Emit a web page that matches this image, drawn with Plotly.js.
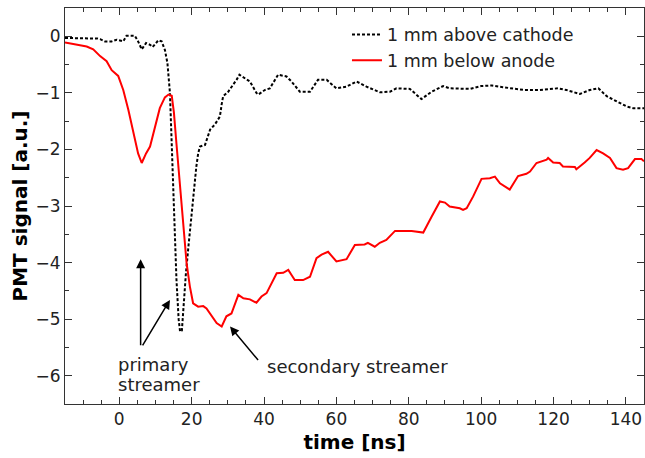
<!DOCTYPE html>
<html>
<head>
<meta charset="utf-8">
<script src="https://cdn.plot.ly/plotly-3.0.1.min.js"></script>
<style>
  html, body { margin: 0; padding: 0; background: #fff; }
  #chart { width: 645px; height: 458px; }
</style>
</head>
<body>
<div id="chart"></div>
<script>
// PMT traces: 1 mm above the cathode (black, dotted)
const cathodeTime = [-15, -12, -9, -6, -5.3, -4, -2.1, -0.7, 1.1, 2, 4.3, 5.2, 6.2, 7.4, 8.5, 9.2, 10.8, 11.7, 12.6, 13.3,
  14, 14.9, 15.8, 16.4, 16.8, 17.3, 17.7, 18.4, 19.1, 20.4, 21.3, 21.8, 22.3, 23.7, 25.1, 26.4, 27.8, 28.3, 28.7, 30.1,
  31.5, 32.4, 33.2, 34.3, 36.1, 37.9, 38.4, 40.2, 41.6, 43.9, 46.2, 47.6, 49.9, 52.7, 54.9, 57.3, 60, 62.8, 65.6, 68.3,
  72, 74.8, 76.6, 80.3, 83.5, 86.3, 89.5, 91.3, 94, 97, 100, 103, 106, 109, 112, 116, 118.5, 121.3, 123.6, 127.3,
  130, 132.4, 134.7, 137.4, 140.2, 142, 145];
const cathodeSignal = [-0.03, -0.03, -0.03, -0.04, -0.05, -0.09, -0.09, -0.06, -0.09, 0.01, 0.01, -0.09, -0.23, -0.12, -0.15, -0.19, -0.07, -0.09, -0.24, -0.47,
  -1.0, -2.7, -4.3, -5.0, -5.22, -5.2, -4.78, -4.2, -3.72, -2.83, -2.3, -2.07, -1.95, -1.92, -1.65, -1.56, -1.42, -1.2, -1.06, -0.98,
  -0.86, -0.77, -0.68, -0.72, -0.8, -1.0, -1.03, -0.95, -0.92, -0.68, -0.71, -0.8, -0.98, -0.98, -0.77, -0.77, -0.92, -0.89, -0.8, -0.89,
  -0.99, -0.98, -0.92, -0.93, -1.11, -0.98, -0.88, -0.92, -0.92, -0.93, -0.88, -0.87, -0.9, -0.92, -0.95, -0.95, -0.93, -0.92, -0.95, -1.02,
  -0.95, -0.92, -1.06, -1.15, -1.24, -1.27, -1.27];

// 1 mm below the anode (red, solid)
const anodeTime = [-15, -12.2, -9, -7.2, -5.3, -3.5, -2.1, -0.3, 1.1, 2.5, 3.9, 5.2, 6.2, 7.4, 8.5, 9.9, 11.2, 12.6, 13.6, 14.5,
  15.1, 15.8, 16.8, 17.7, 18.6, 19.5, 20.4, 21.8, 23.2, 24.1, 25.5, 26.9, 28.3, 29.6, 31, 32, 32.9, 34.3, 36.1, 37.9,
  39.3, 40.7, 42.1, 43.5, 45.3, 46.7, 47.6, 48.5, 50.8, 52.7, 54.5, 55.9, 57.7, 60, 62.8, 65.1, 67.8, 68.7, 70.6, 72,
  73.8, 76.2, 80.8, 84, 86.3, 88.6, 90, 91.3, 94.1, 95, 96, 97.8, 100.1, 102.4, 103.8, 105.2, 107.9, 110.2, 112.5, 113.5,
  115.3, 118.1, 118.5, 119.9, 121.7, 122.6, 125.9, 126.3, 128.6, 130, 131.9, 133.7, 135.6, 137.4, 139.2, 140.6, 142.5, 144.3, 145];
const anodeSignal = [-0.11, -0.14, -0.18, -0.23, -0.35, -0.44, -0.6, -0.7, -0.95, -1.3, -1.71, -2.07, -2.24, -2.07, -1.95, -1.6, -1.27, -1.08, -1.03, -1.05,
  -1.35, -1.9, -2.71, -3.42, -4.01, -4.42, -4.72, -4.78, -4.77, -4.81, -4.95, -5.07, -5.13, -4.95, -4.9, -4.72, -4.57, -4.63, -4.65, -4.71,
  -4.6, -4.54, -4.36, -4.19, -4.18, -4.13, -4.22, -4.31, -4.31, -4.25, -3.92, -3.86, -3.81, -3.98, -3.94, -3.69, -3.68, -3.65, -3.72, -3.65,
  -3.6, -3.44, -3.44, -3.47, -3.19, -2.92, -2.94, -3.01, -3.04, -3.07, -3.04, -2.83, -2.52, -2.51, -2.48, -2.6, -2.71, -2.47, -2.43, -2.39,
  -2.24, -2.18, -2.15, -2.23, -2.24, -2.3, -2.31, -2.35, -2.23, -2.15, -2.01, -2.07, -2.15, -2.33, -2.36, -2.33, -2.17, -2.17, -2.21];

const seriesNames = ['1 mm above cathode', '1 mm below anode'];

const FONT = 'DejaVu Sans, Verdana, sans-serif';
const INK = '#222';

const traces = [
  {
    x: cathodeTime, y: cathodeSignal, name: seriesNames[0], type: 'scatter', mode: 'lines',
    line: { color: '#000', width: 2, dash: '3px,2px' }
  },
  {
    x: anodeTime, y: anodeSignal, name: seriesNames[1], type: 'scatter', mode: 'lines',
    line: { color: '#ff0000', width: 2 }
  }
];

const axisCommon = {
  showgrid: false, zeroline: false,
  showline: true, linecolor: '#333', linewidth: 1, mirror: 'ticks',
  ticks: 'inside', ticklen: 7, tickwidth: 1, tickcolor: '#333',
  tickfont: { family: FONT, size: 17, color: INK }
};

const ann = (x, y, ax, ay) => ({
  x: x, y: y, ax: ax, ay: ay, xref: 'x', yref: 'y', axref: 'x', ayref: 'y',
  text: '', showarrow: true, arrowhead: 2, arrowsize: 1.2, arrowwidth: 1.5, arrowcolor: '#000'
});
const label = (x, y, text) => ({
  x: x, y: y, xref: 'x', yref: 'y', xanchor: 'left', yanchor: 'middle',
  text: text, showarrow: false, font: { family: FONT, size: 18, color: INK }
});

const layout = {
  width: 645, height: 458,
  margin: { l: 65, r: 1, t: 8, b: 54 },
  paper_bgcolor: '#fff', plot_bgcolor: '#fff',
  showlegend: true,
  legend: {
    x: 0.487, y: 0.978, xanchor: 'left', yanchor: 'top',
    bgcolor: 'rgba(0,0,0,0)', borderwidth: 0,
    font: { family: FONT, size: 17.5, color: INK }
  },
  xaxis: Object.assign({}, axisCommon, {
    range: [-15, 145], tick0: 0, dtick: 20,
    minor: { ticks: 'inside', ticklen: 4, dtick: 5, tick0: 0, tickcolor: '#333' },
    title: { text: '<b>time [ns]</b>', font: { family: FONT, size: 20, color: '#000' }, standoff: 6 }
  }),
  yaxis: Object.assign({}, axisCommon, {
    range: [-6.5, 0.5], tick0: 0, dtick: 1,
    minor: { ticks: 'inside', ticklen: 4, dtick: 0.5, tick0: 0, tickcolor: '#333' },
    title: { text: '<b>PMT signal [a.u.]</b>', font: { family: FONT, size: 20, color: '#000' }, standoff: 2 }
  }),
  annotations: [
    ann(5.9, -3.94, 5.9, -5.49),
    ann(14.0, -4.66, 6.2, -5.49),
    ann(30.6, -5.13, 38.7, -5.75),
    label(-0.8, -5.81, 'primary'),
    label(-0.8, -6.16, 'streamer'),
    label(40.2, -5.84, 'secondary streamer')
  ]
};

Plotly.newPlot('chart', traces, layout, { displayModeBar: false, staticPlot: true });
</script>
</body>
</html>
